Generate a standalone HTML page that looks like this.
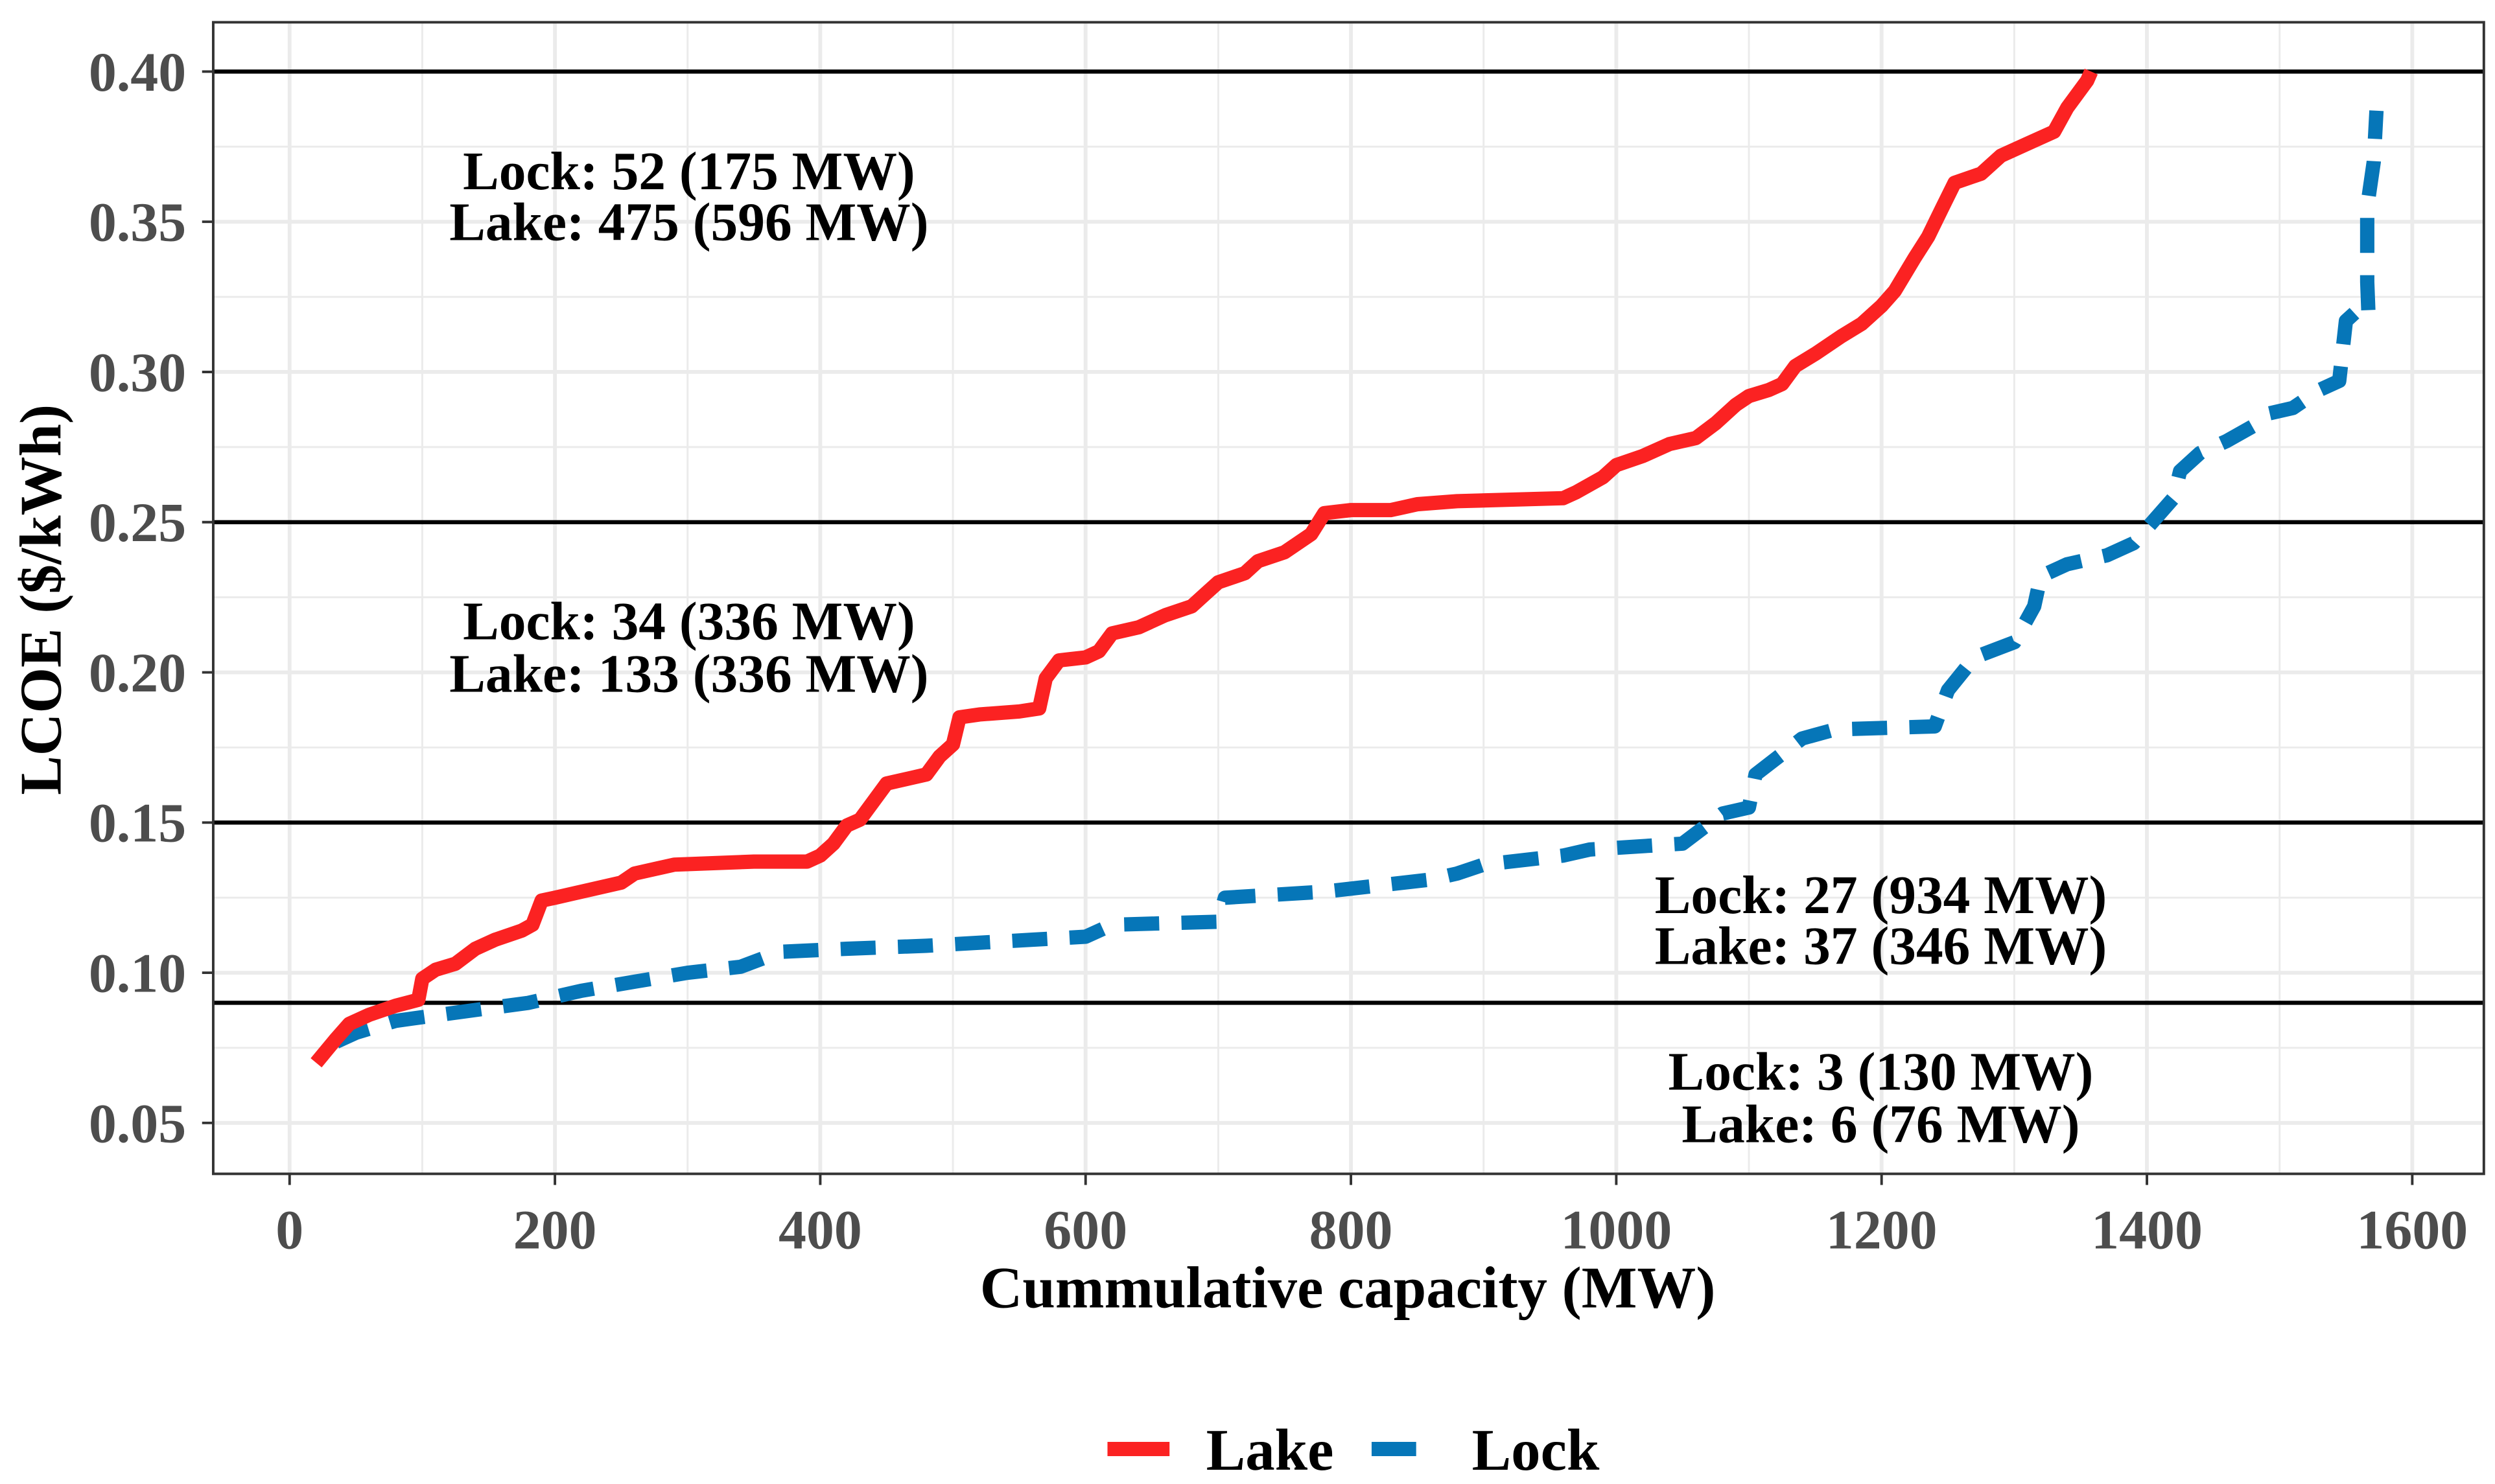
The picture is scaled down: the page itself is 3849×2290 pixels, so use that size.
<!DOCTYPE html>
<html><head><meta charset="utf-8"><style>
html,body{margin:0;padding:0;background:#fff;}
svg{display:block;}
text{font-family:"Liberation Serif",serif;font-weight:bold;}
</style></head><body>
<svg id="chart" width="3849" height="2290" viewBox="0 0 1568 933" preserveAspectRatio="none" xmlns="http://www.w3.org/2000/svg">
<g id="grid"></g>
<g id="hlines"></g>
<g id="series"></g>
<rect x="134" y="14" width="1427" height="724" fill="none" stroke="#333" stroke-width="1.6"/>
<g id="axes"></g>
<g font-size="34" fill="#000" text-anchor="middle">
<text x="433" y="119">Lock: 52 (175 MW)</text>
<text x="433" y="151">Lake: 475 (596 MW)</text>
<text x="433" y="402">Lock: 34 (336 MW)</text>
<text x="433" y="435">Lake: 133 (336 MW)</text>
<text x="1182" y="574">Lock: 27 (934 MW)</text>
<text x="1182" y="606">Lake: 37 (346 MW)</text>
<text x="1182" y="685">Lock: 3 (130 MW)</text>
<text x="1182" y="718">Lake: 6 (76 MW)</text>
</g>
<text x="847" y="822" font-size="37" text-anchor="middle">Cummulative capacity (MW)</text>
<text transform="translate(38,377) rotate(-90)" font-size="37" text-anchor="middle">LCOE ($/kWh)</text>
<g>
<line x1="696" y1="911" x2="735" y2="911" stroke="#fb2222" stroke-width="9"/>
<text x="758" y="924" font-size="37">Lake</text>
<line x1="862" y1="911" x2="890" y2="911" stroke="#0676b8" stroke-width="9"/>
<text x="925" y="924" font-size="37">Lock</text>
</g>
</svg>
<script>
const xTicks=[0,200,400,600,800,1000,1200,1400,1600];
const yTicks=[0.05,0.10,0.15,0.20,0.25,0.30,0.35,0.40];
const yTickLabels=["0.05","0.10","0.15","0.20","0.25","0.30","0.35","0.40"];
const thresholds=[0.40,0.25,0.15,0.09];
const lakeX=[20,35,45,60,80,97,100,110,125,140,155,175,183,190,200,250,260,290,350,390,400,410,420,430,440,450,470,480,490,500,505,520,550,565,570,580,600,610,620,640,660,680,690,700,720,730,750,770,780,800,830,850,880,960,970,990,1000,1020,1040,1060,1075,1090,1100,1115,1125,1135,1150,1170,1185,1200,1210,1225,1235,1245,1255,1275,1290,1310,1330,1340,1355,1358];
const lakeY=[0.070,0.078,0.083,0.086,0.089,0.091,0.098,0.101,0.103,0.108,0.111,0.114,0.116,0.124,0.125,0.130,0.133,0.136,0.137,0.137,0.139,0.143,0.149,0.151,0.157,0.163,0.165,0.166,0.172,0.176,0.185,0.186,0.187,0.188,0.198,0.204,0.205,0.207,0.213,0.215,0.219,0.222,0.226,0.230,0.233,0.237,0.240,0.246,0.253,0.254,0.254,0.256,0.257,0.258,0.260,0.265,0.269,0.272,0.276,0.278,0.283,0.289,0.292,0.294,0.296,0.302,0.306,0.312,0.316,0.322,0.327,0.338,0.345,0.354,0.363,0.366,0.372,0.376,0.380,0.388,0.397,0.400];
const lockX=[35,50,80,130,180,220,260,300,340,370,420,480,560,600,620,700,705,780,820,860,880,900,960,980,1050,1065,1080,1100,1105,1140,1165,1240,1250,1270,1300,1315,1320,1340,1370,1390,1400,1420,1425,1440,1460,1480,1490,1510,1530,1545,1550,1560,1567,1566,1566,1571,1573];
const lockY=[0.077,0.080,0.084,0.087,0.090,0.094,0.097,0.100,0.102,0.107,0.108,0.109,0.111,0.112,0.116,0.117,0.125,0.127,0.129,0.131,0.133,0.136,0.139,0.141,0.143,0.148,0.153,0.155,0.166,0.178,0.181,0.182,0.194,0.205,0.210,0.222,0.232,0.236,0.239,0.243,0.248,0.258,0.267,0.273,0.277,0.282,0.286,0.288,0.294,0.297,0.317,0.321,0.319,0.330,0.355,0.370,0.387];

const NS="http://www.w3.org/2000/svg";
const L=134,R=1561,T=14,B=738;
const sx=v=>182+(v/1600)*(1516-182);
const sy=v=>706-(v-0.05)/0.35*(706-45);
function mk(tag,attrs,parent){const e=document.createElementNS(NS,tag);for(const k in attrs)e.setAttribute(k,attrs[k]);parent.appendChild(e);return e;}
const grid=document.getElementById('grid');
for(let i=0;i<xTicks.length-1;i++){
  const v=(xTicks[i]+xTicks[i+1])/2;
  const ln=mk('line',{x1:sx(v),x2:sx(v),y1:T,y2:B,stroke:'#ebebeb','stroke-width':1.2},grid);
  
  
}
for(let i=0;i<yTicks.length;i++){
  const v=yTicks[i]+0.025;
  if(sy(v)<T)continue;
  const ln=mk('line',{x1:L,x2:R,y1:sy(v),y2:sy(v),stroke:'#ebebeb','stroke-width':1.2},grid);
  
  
}
xTicks.forEach(v=>{
  const ln=mk('line',{x1:sx(v),x2:sx(v),y1:T,y2:B,stroke:'#ebebeb','stroke-width':2.4},grid);
  
  
});
yTicks.forEach(v=>{
  const ln=mk('line',{x1:L,x2:R,y1:sy(v),y2:sy(v),stroke:'#ebebeb','stroke-width':2.4},grid);
  
  
});
const hl=document.getElementById('hlines');
thresholds.forEach(v=>{
  const ln=mk('line',{x1:L,x2:R,y1:sy(v),y2:sy(v),stroke:'#000','stroke-width':2.6},hl);
  
  
});
const ser=document.getElementById('series');
const pts=(xs,ys)=>xs.map((x,i)=>sx(x).toFixed(1)+','+sy(ys[i]).toFixed(1)).join(' ');
const lock=mk('polyline',{points:pts(lockX,lockY),fill:'none',stroke:'#0676b8','stroke-width':9,'stroke-dasharray':'22 14','stroke-linejoin':'round'},ser);


const lake=mk('polyline',{points:pts(lakeX,lakeY),fill:'none',stroke:'#fb2222','stroke-width':9,'stroke-linejoin':'round'},ser);


const ax=document.getElementById('axes');
xTicks.forEach(v=>{
  const t=mk('line',{x1:sx(v),x2:sx(v),y1:B,y2:B+7,stroke:'#333','stroke-width':1.6},ax);
  
  
  const tx=mk('text',{x:sx(v),y:785,'font-size':35,fill:'#4d4d4d','text-anchor':'middle'},ax);
  tx.textContent=String(v);
  
  
});
yTicks.forEach((v,i)=>{
  const t=mk('line',{x1:L-7,x2:L,y1:sy(v),y2:sy(v),stroke:'#333','stroke-width':1.6},ax);
  
  
  const tx=mk('text',{x:L-17,y:sy(v)+12,'font-size':35,fill:'#4d4d4d','text-anchor':'end'},ax);
  tx.textContent=yTickLabels[i];
  
  
});
</script>
</body></html>
